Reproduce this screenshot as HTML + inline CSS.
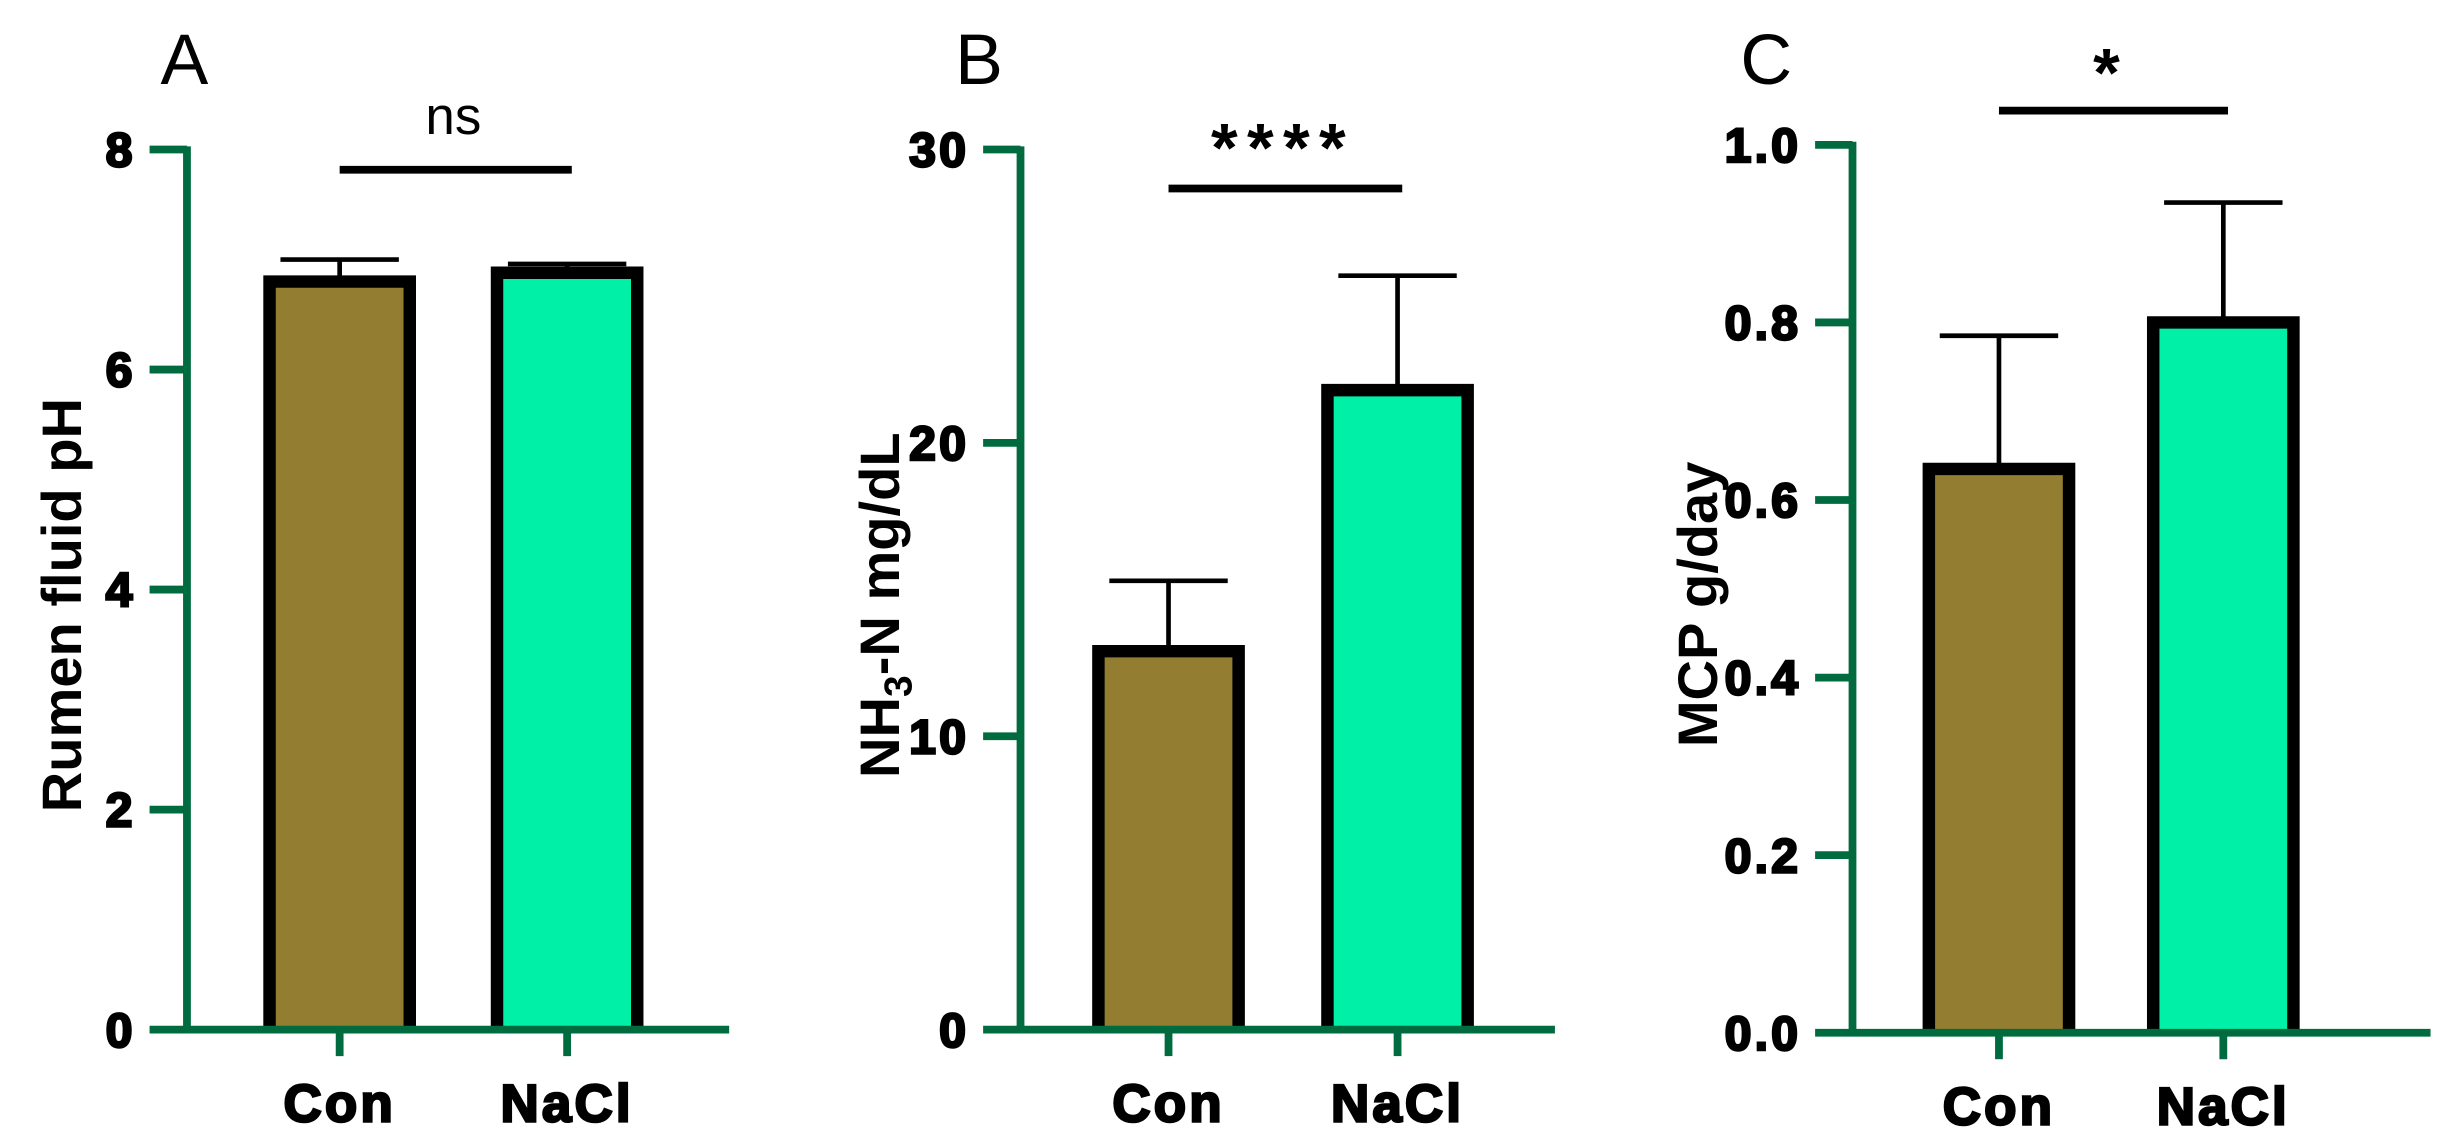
<!DOCTYPE html>
<html><head><meta charset="utf-8"><style>
html,body{margin:0;padding:0;background:#fff;}
svg{display:block;font-family:"Liberation Sans",Arial,sans-serif;}
</style></head><body>
<svg id="fig" width="2443" height="1148" viewBox="0 0 1568 737" preserveAspectRatio="none" xmlns="http://www.w3.org/2000/svg"></svg>
<script>
const categories = ["Con", "NaCl"];
const phValues = [6.8, 6.88];
const phErrors = [0.2, 0.08];
const phTicks = ["0", "2", "4", "6", "8"];
const nh3Values = [12.9, 21.8];
const nh3Errors = [2.4, 3.9];
const nh3Ticks = ["0", "10", "20", "30"];
const mcpValues = [0.635, 0.80];
const mcpErrors = [0.15, 0.135];
const mcpTicks = ["0.0", "0.2", "0.4", "0.6", "0.8", "1.0"];
const sigLabels = ["ns", "****", "*"];

const NS = "http://www.w3.org/2000/svg";
const svg = document.getElementById('fig');
const GREEN = "#006b3f", FILLS = ["#927d30", "#00f0a8"];
function el(tag, attrs, parent) {
  const e = document.createElementNS(NS, tag);
  for (const k in attrs) e.setAttribute(k, attrs[k]);
  (parent || svg).appendChild(e);
  return e;
}
const panels = [
  {letter:"A", lx:103, ax:120, top:96, bot:661, xend:468, cx:[218,364], max:8, ticks:phTicks, vals:phValues, errs:phErrors, title:"Rumen fluid pH", tx:40, sig:sigLabels[0], sigY:109, sigTy:86, sigSize:34, bold:false},
  {letter:"B", lx:613, ax:655, top:96, bot:661, xend:998, cx:[750,897], max:30, ticks:nh3Ticks, vals:nh3Values, errs:nh3Errors, title:"NH3", tx:565, sig:sigLabels[1], sigY:121, sigTy:110, sigSize:44, bold:true},
  {letter:"C", lx:1117, ax:1189, top:93, bot:663, xend:1560, cx:[1283,1427], max:1.0, ticks:mcpTicks, vals:mcpValues, errs:mcpErrors, title:"MCP g/day", tx:1090, sig:sigLabels[2], sigY:71, sigTy:62, sigSize:44, bold:true}
];
panels.forEach((p, pi) => {
  const g = el('g', {});
  
  
  const y = v => p.bot - v / p.max * (p.bot - p.top);
  const lt = el('text', {x:p.lx, y:54, 'font-size':46}, g);
  lt.textContent = p.letter;
  
  
  p.vals.forEach((v, i) => {
    const cx = p.cx[i], hw = 45;
    const er = el('line', {x1:cx, x2:cx, y1:y(v), y2:y(v + p.errs[i]), stroke:'#000', 'stroke-width':3}, g);
    
    
    const cap = el('line', {x1:cx - 38, x2:cx + 38, y1:y(v + p.errs[i]), y2:y(v + p.errs[i]), stroke:'#000', 'stroke-width':3}, g);
    
    
    const r = el('rect', {x:cx - hw, y:y(v), width:hw * 2, height:p.bot - y(v), fill:FILLS[i]}, g);
    
    
    const o = el('path', {d:`M${cx - hw},${p.bot} V${y(v)} H${cx + hw} V${p.bot}`, fill:'none', stroke:'#000', 'stroke-width':8, 'stroke-linejoin':'miter'}, g);
    
    
  });
  const xa = el('line', {x1:p.ax - 24, x2:p.xend, y1:p.bot, y2:p.bot, stroke:GREEN, 'stroke-width':5}, g);
  
  
  const ya = el('line', {x1:p.ax, x2:p.ax, y1:p.top - 2, y2:p.bot, stroke:GREEN, 'stroke-width':5}, g);
  
  
  p.ticks.forEach((t, i) => {
    const v = parseFloat(t), ty = y(v);
    if (i > 0) {
      const tk = el('line', {x1:p.ax - 24, x2:p.ax, y1:ty, y2:ty, stroke:GREEN, 'stroke-width':5}, g);
      
      
    }
    const tl = el('text', {x:p.ax - 33, y:ty + 11, 'font-size':31, 'font-weight':'bold', 'text-anchor':'end', 'letter-spacing':2, stroke:'#000', 'stroke-width':1.6}, g);
    tl.textContent = t;
    
    
  });
  categories.forEach((c, i) => {
    const tk = el('line', {x1:p.cx[i], x2:p.cx[i], y1:p.bot, y2:p.bot + 17, stroke:GREEN, 'stroke-width':5}, g);
    
    
    const cl = el('text', {x:p.cx[i], y:p.bot + 59, 'font-size':34, 'font-weight':'bold', 'text-anchor':'middle', 'letter-spacing':2, stroke:'#000', 'stroke-width':1.6}, g);
    cl.textContent = c;
    
    
  });
  const cy = (p.top + p.bot) / 2 + 10;
  const tt = el('text', {x:0, y:0, 'font-size':36, 'font-weight':'bold', 'text-anchor':'middle', transform:`translate(${p.tx + 12},${cy}) rotate(-90)`}, g);
  if (p.title === "NH3") {
    tt.innerHTML = 'NH<tspan font-size="25" dy="8">3</tspan><tspan dy="-8">-N mg/dL</tspan>';
  } else tt.textContent = p.title;
  
  
  const sb = el('line', {x1:p.cx[0], x2:p.cx[1] + 3, y1:p.sigY, y2:p.sigY, stroke:'#000', 'stroke-width':5}, g);
  
  
  const st = el('text', {x:(p.cx[0] + p.cx[1]) / 2, y:p.sigTy, 'font-size':p.sigSize, 'font-weight':p.bold ? 'bold' : 'normal', 'text-anchor':'middle', 'letter-spacing':p.bold ? 6 : 0}, g);
  st.textContent = p.sig;
  
  
});
</script>
</body></html>
